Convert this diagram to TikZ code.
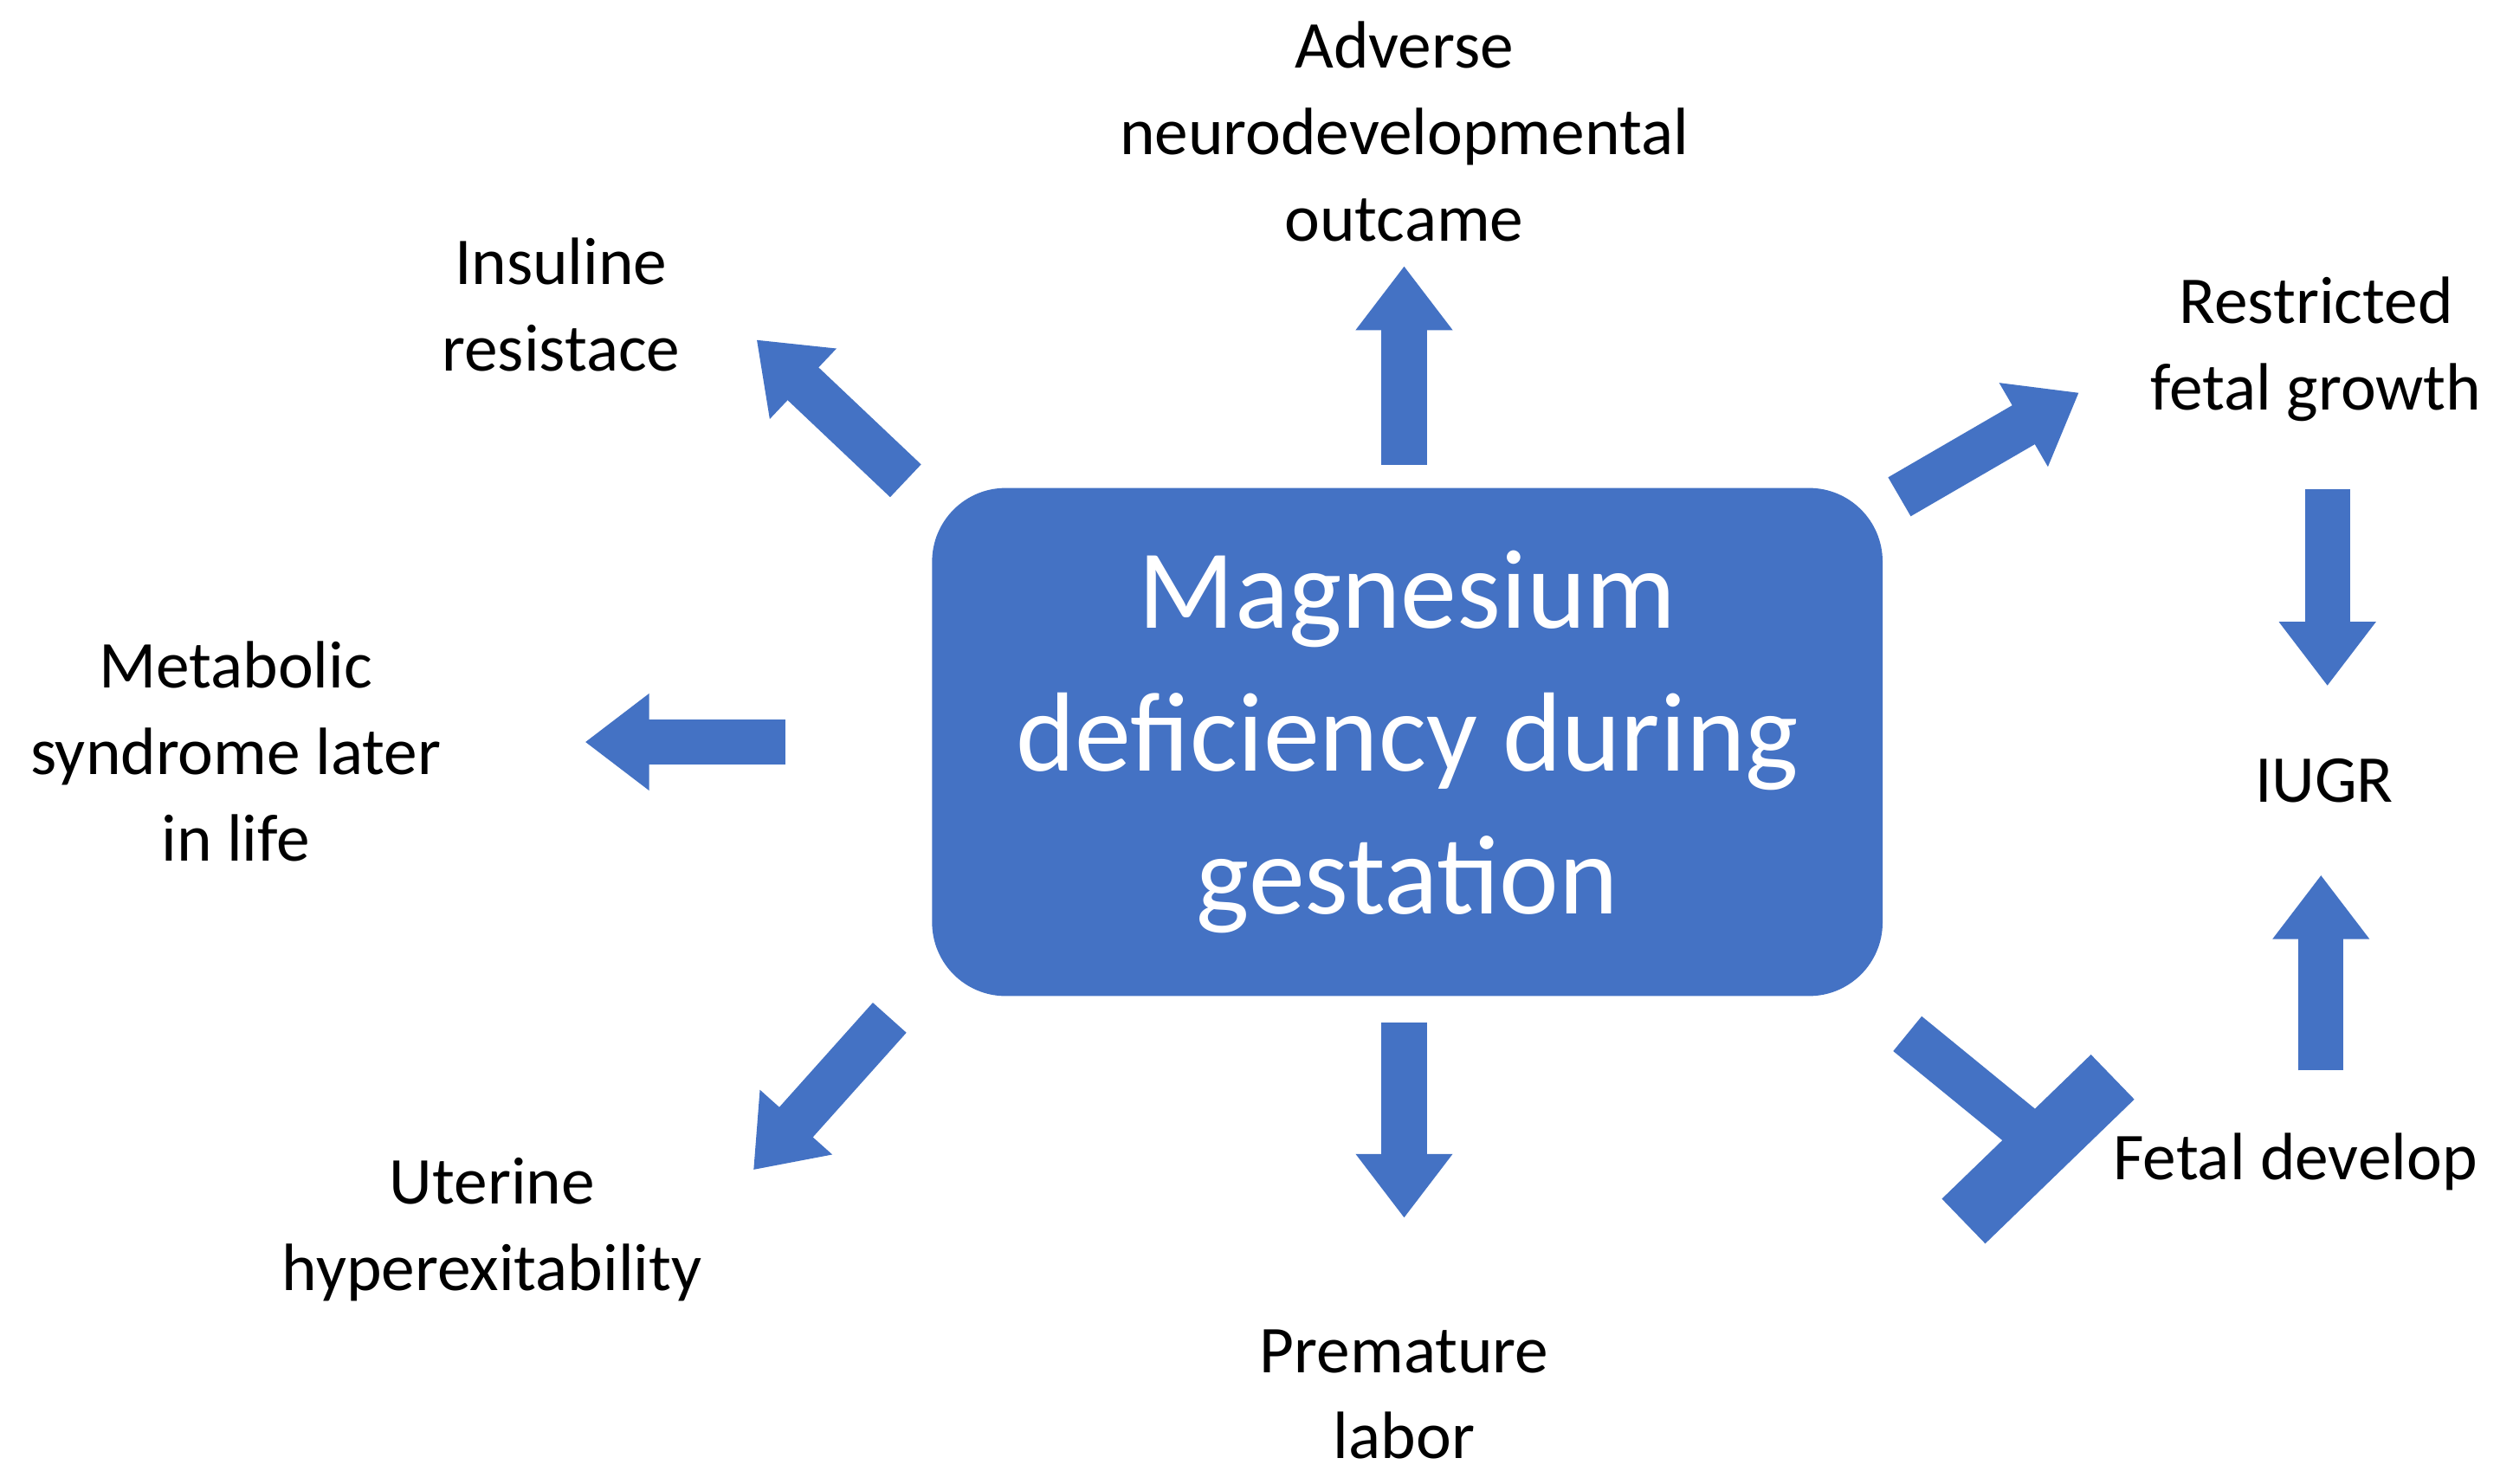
\documentclass[tikz,border=0pt]{standalone}
\usepackage{fontspec}
\setmainfont{Carlito}
\usetikzlibrary{arrows.meta}
\definecolor{mblue}{HTML}{4472C4}
\begin{document}
\begin{tikzpicture}[x=0.01851cm,y=-0.01851cm,
  lbl/.style={align=center,font=\fontsize{22}{28.4}\selectfont,text=black},
  barrow/.style={draw=mblue,line width=0.52cm,-{Triangle[width=1.07cm,length=0.74cm]},mblue}]
\useasboundingbox[fill=white] (0,0) rectangle (1567.8,925.5);
\node[fill=mblue,rounded corners=0.85cm,minimum width=593*0.01851cm,minimum height=317*0.01851cm,
  text=white,align=center,font=\fontsize{37}{47}\selectfont] (c) at (878,463) {Magnesium\\deficiency during\\gestation};
\node[lbl] (a1) at (876,82) {Adverse\\neurodevelopmental\\outcame};
\node[lbl] (a2) at (350,190) {Insuline\\resistace};
\node[lbl] (a3) at (1445,218) {Restricted\\fetal growth};
\node[lbl] (a4) at (147,469) {Metabolic\\syndrome later\\in life};
\node[lbl] (a5) at (1450,487) {IUGR};
\node[lbl] (a6) at (307,767) {Uterine\\hyperexitability};
\node[lbl] (a7) at (876,870) {Premature\\labor};
\node[lbl] (a8) at (1432,725) {Fetal develop};
\coordinate (s1) at (876,290); \coordinate (e1) at (876,166);
\coordinate (s2) at (565,300); \coordinate (e2) at (472,212);
\coordinate (s3) at (490,463); \coordinate (e3) at (365,463);
\coordinate (s4) at (555,635); \coordinate (e4) at (470,730);
\coordinate (s5) at (876,638); \coordinate (e5) at (876,760);
\coordinate (s6) at (1185,310); \coordinate (e6) at (1297,245);
\coordinate (s7) at (1452,305); \coordinate (e7) at (1452,428);
\coordinate (s8) at (1448,668); \coordinate (e8) at (1448,546);
\foreach \i in {1,...,8} {\draw[barrow] (s\i) -- (e\i);}
\coordinate (t1) at (1190,645); \coordinate (t2) at (1272,712);
\coordinate (b1) at (1225,762); \coordinate (b2) at (1318,672);
\draw[mblue,line width=0.52cm] (t1) -- (t2);
\draw[mblue,line width=0.72cm] (b1) -- (b2);
\end{tikzpicture}
\end{document}
